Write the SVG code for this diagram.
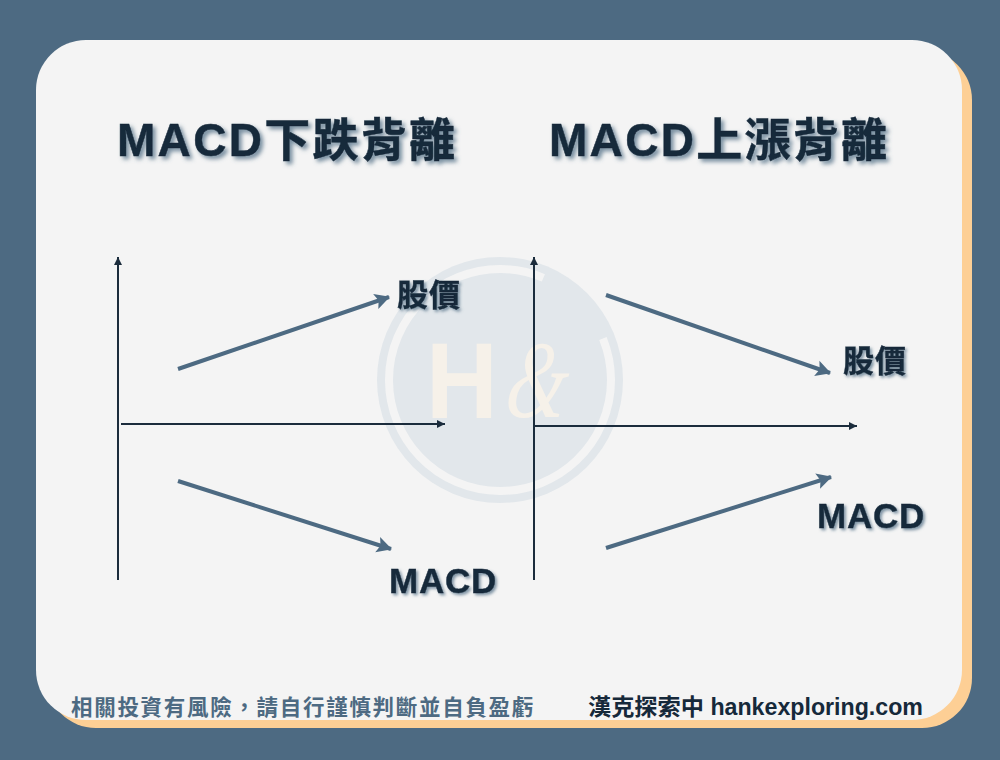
<svg xmlns="http://www.w3.org/2000/svg" width="1000" height="760" viewBox="0 0 1000 760">
<style>
text{font-family:"Liberation Sans","Noto Sans CJK TC",sans-serif;font-weight:700}
.title{font-size:46px;fill:#16293a;stroke:#16293a;stroke-width:.5;filter:url(#sh);letter-spacing:2.3px}
.lab{fill:#16293a;stroke:#16293a;stroke-width:.4;filter:url(#sh2)}
.cn{font-size:31px;letter-spacing:1px}
.en{font-size:35px;letter-spacing:.8px}
.axis{stroke:#1b2c3c;stroke-width:2;fill:none;marker-end:url(#ah)}
.trend{stroke:#4d6a82;stroke-width:4;fill:none;marker-end:url(#tr)}
</style>
<defs>
<filter id="sh" x="-10%" y="-20%" width="120%" height="150%"><feDropShadow dx="3" dy="3" stdDeviation="2" flood-color="#4d6a82" flood-opacity=".75"/></filter>
<filter id="sh2" x="-10%" y="-20%" width="120%" height="150%"><feDropShadow dx="2" dy="2" stdDeviation="1.5" flood-color="#4d6a82" flood-opacity=".7"/></filter>
<marker id="ah" markerUnits="userSpaceOnUse" markerWidth="10" markerHeight="10" refX="8" refY="5" orient="auto"><path d="M0 1L8 5L0 9Z" fill="#1b2c3c"/></marker>
<marker id="tr" markerUnits="userSpaceOnUse" markerWidth="20" markerHeight="20" refX="15" refY="10" orient="auto"><path d="M1 2L16 10L1 18L4 10Z" fill="#4d6a82"/></marker>
</defs>
<rect width="1000" height="760" fill="#4d6a82"/>
<rect x="46" y="50" width="926" height="678" rx="50" fill="#fdcf95"/>
<rect x="36" y="40" width="926" height="680" rx="50" fill="#f4f4f4"/>
<g id="watermark">
<circle cx="500" cy="380" r="123" fill="#e2e7eb"/>
<circle cx="500" cy="380" r="111" fill="none" stroke="#f4f4f4" stroke-width="8" pathLength="360" stroke-dasharray="315 45" transform="rotate(-22 500 380)"/>
<text transform="translate(426 418) scale(.92 1)" font-size="108" fill="#f6f1e9">H</text>
<text transform="translate(503 417) skewX(-8) scale(.72 1.02)" font-size="108" style="font-family:'Liberation Serif',serif;font-weight:400;font-style:italic" fill="#f6f1e9">&amp;</text>
</g>
<g id="connectors">
<path class="axis" d="M118 580V257"/>
<path class="axis" d="M121 424H445"/>
<path class="axis" d="M534 580V257"/>
<path class="axis" d="M534 426H857"/>
<path class="trend" d="M178 369L389 297"/>
<path class="trend" d="M178 481L391 549"/>
<path class="trend" d="M606 295L830 373"/>
<path class="trend" d="M606 548L831 477"/>
</g>
<g id="title-left"><text class="title" x="117" y="156">MACD下跌背離</text></g>
<g id="title-right"><text class="title" x="549" y="156">MACD上漲背離</text></g>
<g id="label-price-left"><text class="lab cn" x="397" y="306">股價</text></g>
<g id="label-macd-left"><text class="lab en" x="389" y="593">MACD</text></g>
<g id="label-price-right"><text class="lab cn" x="843" y="372">股價</text></g>
<g id="label-macd-right"><text class="lab en" x="817" y="528">MACD</text></g>
<g id="footer">
<text x="71" y="715" font-size="21.5" fill="#4d6a82" letter-spacing="1.7">相關投資有風險，請自行謹慎判斷並自負盈虧</text>
<text x="588" y="715" font-size="23.2" fill="#16293a">漢克探索中 hankexploring.com</text>
</g>
</svg>
